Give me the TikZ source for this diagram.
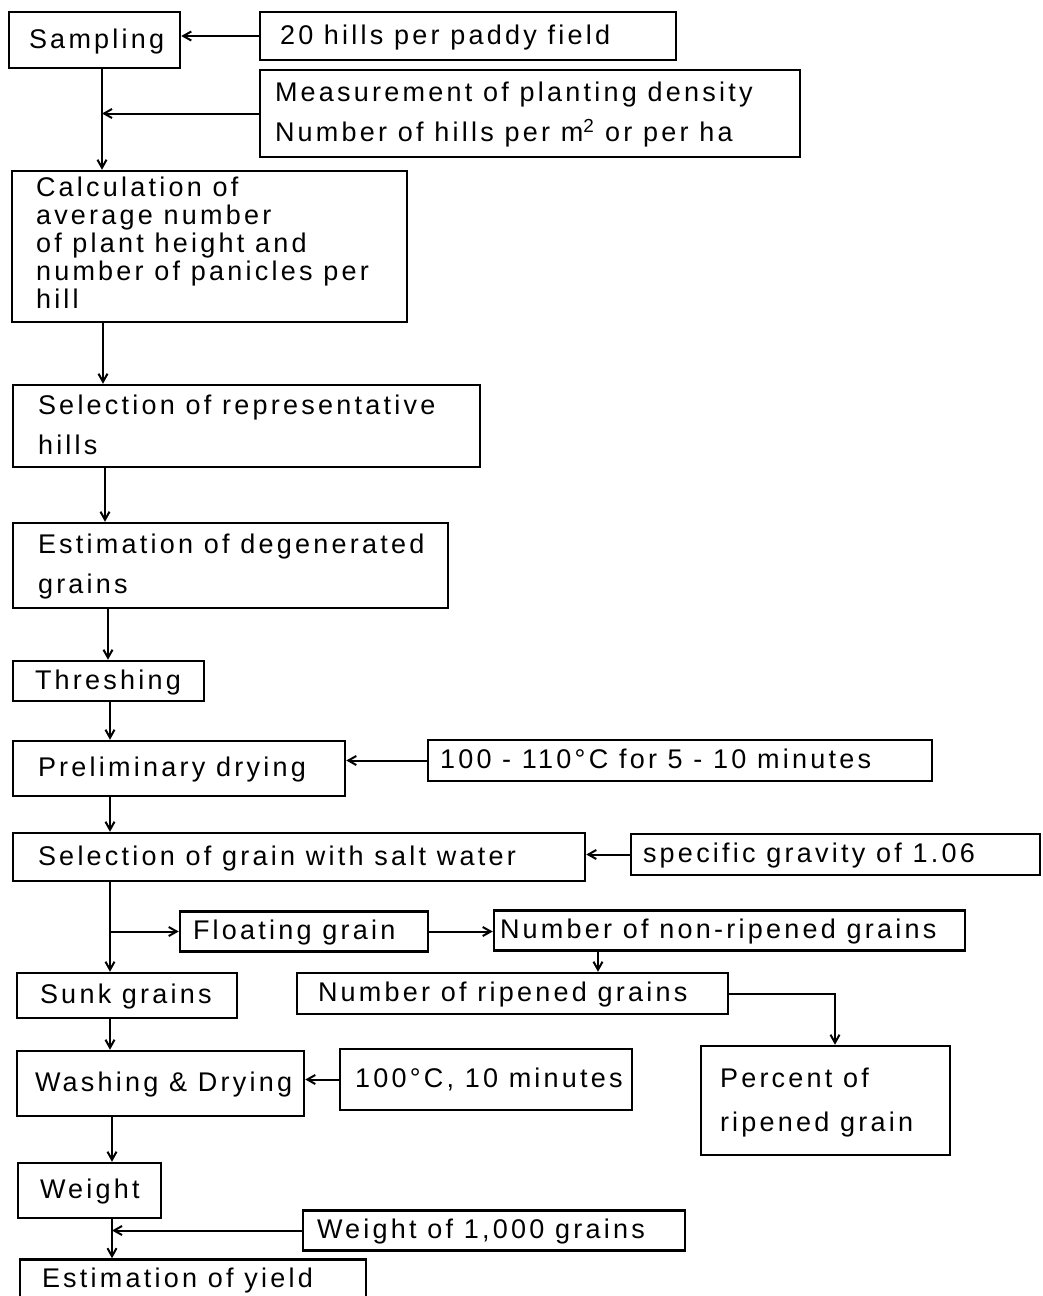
\documentclass[tikz,border=0pt]{standalone}
\usepackage{fontspec}
\setmainfont{Liberation Sans}[LetterSpace=12]
\usetikzlibrary{arrows.meta}
\newcommand\bskip{40}
\newcommand\bx[7][20]{%
  \pgfmathsetmacro\tw{#5-#3-2*#1}%
  \pgfmathsetmacro\bh{#6-#4}%
  \pgfmathsetmacro\cx{(#3+#5)/2}%
  \pgfmathsetmacro\cy{(#4+#6)/2}%
  \node[box,inner xsep=#1pt,minimum height=\bh pt,font=\fontsize{27}{\bskip}\selectfont] (#2) at (\cx,\cy)
    {\makebox[\tw pt][l]{\begin{tabular}{@{}l@{}}#7\end{tabular}}};}
\begin{document}
\begin{tikzpicture}[x=1pt,y=-1pt,
  box/.style={draw,line width=2.5pt,inner ysep=0pt,rectangle},
  arr/.style={line width=2pt,-{Straight Barb[length=8pt,width=9pt]}}]
\useasboundingbox (0,0) rectangle (1043,1296);
\bx{samp}{9}{12}{180}{68}{Sampling}
\bx{hills}{260}{12}{676}{60}{20 hills per paddy field}
\bx[15]{meas}{260}{70}{800}{157}{Measurement of planting density\\Number of hills per m\textsuperscript{2} or per ha}
\renewcommand\bskip{28}
\bx[24]{calc}{12}{171}{407}{322}{Calculation of\\average number\\of plant height and\\number of panicles per\\hill}
\renewcommand\bskip{40}
\bx[25]{selrep}{13}{385}{480}{467}{Selection of representative\\hills}
\bx[25]{estdeg}{13}{523}{448}{608}{Estimation of degenerated\\grains}
\bx[22]{thresh}{13}{661}{204}{701}{Threshing}
\bx[25]{prelim}{13}{741}{345}{796}{Preliminary drying}
\bx[12]{temp1}{428}{740}{932}{781}{100 - 110°C for 5 - 10 minutes}
\bx[25]{salt}{13}{833}{585}{881}{Selection of grain with salt water}
\bx[12]{spg}{631}{834}{1040}{875}{specific gravity of 1.06}
\bx[13]{float}{180}{912}{428}{951}{Floating grain}
\bx[6]{nonrip}{494}{913}{965}{948}{Number of non-ripened grains}
\bx[23]{sunk}{17}{973}{237}{1018}{Sunk grains}
\bx[21]{rip}{297}{973}{728}{1014}{Number of ripened grains}
\bx[18]{wash}{17}{1051}{304}{1116}{Washing \& Drying}
\bx[15]{temp2}{340}{1049}{632}{1110}{100°C, 10 minutes}
\renewcommand\bskip{44}
\bx[19]{pct}{701}{1046}{950}{1155}{Percent of\\ripened grain}
\renewcommand\bskip{40}
\bx[22]{weight}{18}{1163}{161}{1218}{Weight}
\bx[14]{w1000}{303}{1211}{685}{1250}{Weight of 1,000 grains}
\bx[22]{yield}{20}{1262}{366}{1297}{Estimation of yield}
% spine x positions
\coordinate (x102) at (102,0);
\coordinate (x103) at (103,0);
\coordinate (x105) at (105,0);
\coordinate (x108) at (108,0);
\coordinate (x110) at (110,0);
\coordinate (x112) at (112,0);
\coordinate (x598) at (598,0);
\coordinate (x835) at (835,0);
\coordinate (j1) at (x102 |- meas.west);
\coordinate (jf) at (x110 |- float.west);
\coordinate (jw) at (x112 |- w1000.west);
% connectors
\draw[arr] (hills.west) -- (samp.east |- hills.west);
\draw[arr] (x102 |- samp.south) -- (x102 |- calc.north);
\draw[arr] (meas.west) -- (j1);
\draw[arr] (x103 |- calc.south) -- (x103 |- selrep.north);
\draw[arr] (x105 |- selrep.south) -- (x105 |- estdeg.north);
\draw[arr] (x108 |- estdeg.south) -- (x108 |- thresh.north);
\draw[arr] (x110 |- thresh.south) -- (x110 |- prelim.north);
\draw[arr] (temp1.west) -- (prelim.east |- temp1.west);
\draw[arr] (x110 |- prelim.south) -- (x110 |- salt.north);
\draw[arr] (spg.west) -- (salt.east |- spg.west);
\draw[arr] (x110 |- salt.south) -- (x110 |- sunk.north);
\draw[arr] (jf) -- (float.west);
\draw[arr] (float.east) -- (nonrip.west |- float.east);
\draw[arr] (x598 |- nonrip.south) -- (x598 |- rip.north);
\draw[arr] (rip.east) -| (x835 |- pct.north);
\draw[arr] (x110 |- sunk.south) -- (x110 |- wash.north);
\draw[arr] (temp2.west) -- (wash.east |- temp2.west);
\draw[arr] (x112 |- wash.south) -- (x112 |- weight.north);
\draw[arr] (x112 |- weight.south) -- (x112 |- yield.north);
\draw[arr] (w1000.west) -- (jw);
\end{tikzpicture}
\end{document}
